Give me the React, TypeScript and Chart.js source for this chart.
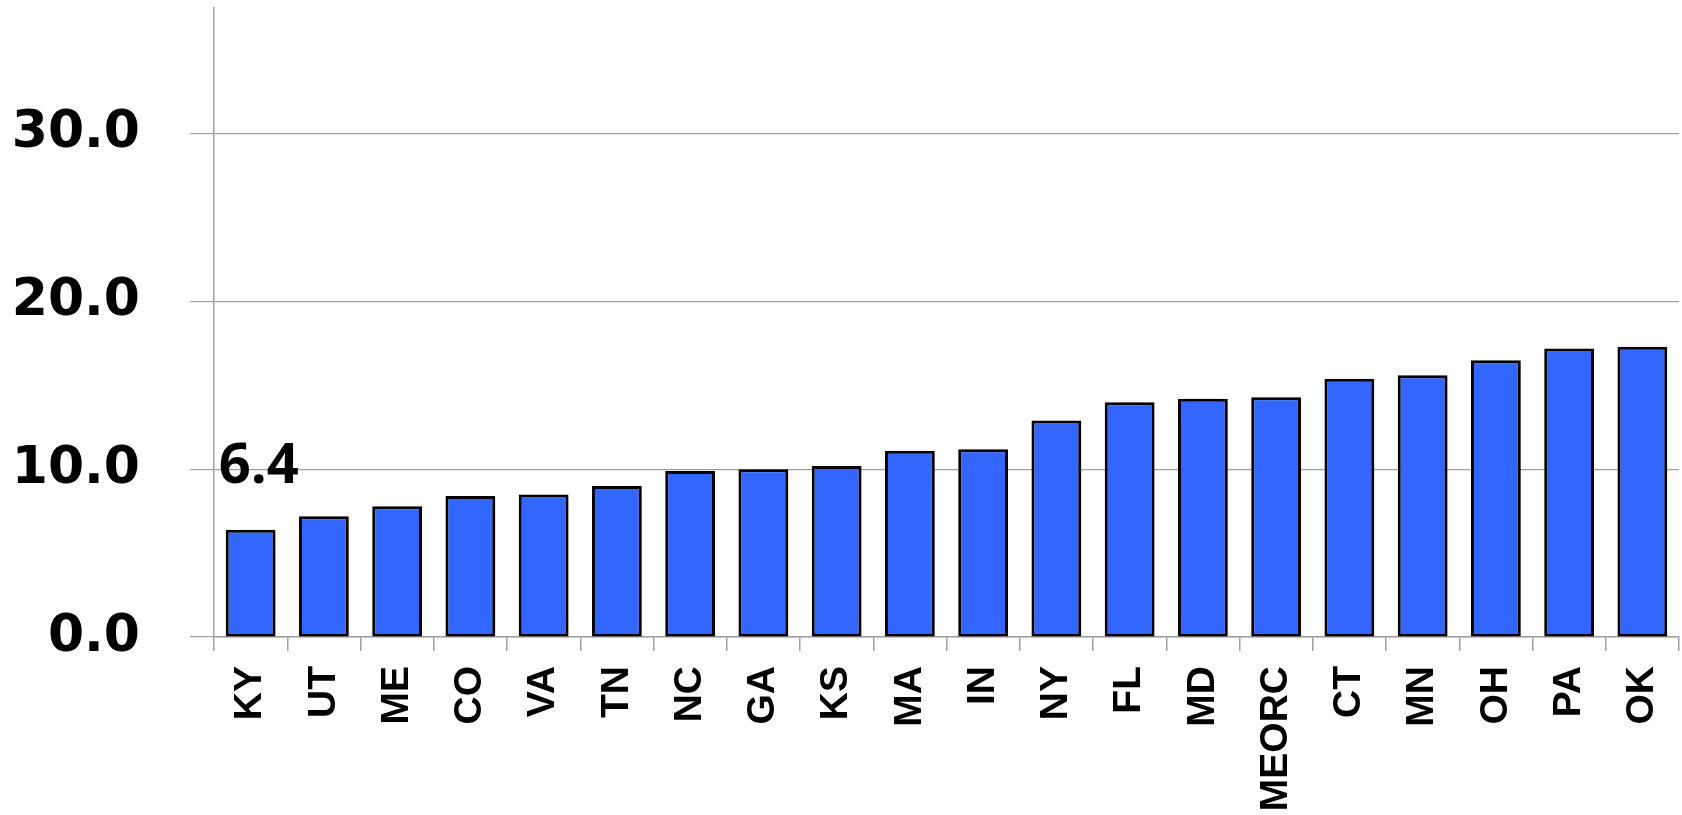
import React, { useEffect, useRef } from "react";
import { Chart, registerables } from "chart.js";

Chart.register(...registerables);

const categories = ["KY", "UT", "ME", "CO", "VA", "TN", "NC", "GA", "KS", "MA", "IN", "NY", "FL", "MD", "MEORC", "CT", "MN", "OH", "PA", "OK"];
const values = [6.4, 7.2, 7.8, 8.4, 8.5, 9.0, 9.9, 10.0, 10.2, 11.1, 11.2, 12.9, 14.0, 14.2, 14.3, 15.4, 15.6, 16.5, 17.2, 17.3];
const yTickValues = [0, 10, 20, 30];
const labelledIndex = 0;

const shadowPlugin = {
  id: "barShadow",
  beforeDatasetDraw(chart: any) {
    const ctx = chart.ctx;
    ctx.save();
    ctx.shadowColor = "rgba(0,0,0,0.22)";
    ctx.shadowBlur = 5;
    ctx.shadowOffsetX = 3;
    ctx.shadowOffsetY = 2;
  },
  afterDatasetDraw(chart: any) {
    chart.ctx.restore();
  },
};

const valueLabelPlugin = {
  id: "valueLabel",
  afterDatasetsDraw(chart: any) {
    const meta = chart.getDatasetMeta(0);
    const bar = meta.data[labelledIndex];
    if (!bar) return;
    const ctx = chart.ctx;
    ctx.save();
    ctx.fillStyle = "#000";
    ctx.font = "bold 56px 'Open Sans'";
    ctx.textAlign = "left";
    ctx.textBaseline = "alphabetic";
    ctx.fillText(values[labelledIndex].toFixed(1), bar.x - bar.width / 2 - 7, bar.y - 47);
    ctx.restore();
  },
};

export default function App() {
  const ref = useRef<HTMLCanvasElement | null>(null);

  useEffect(() => {
    if (!ref.current) return;
    const chart = new Chart(ref.current, {
      type: "bar",
      data: {
        labels: categories,
        datasets: [
          {
            data: values,
            backgroundColor: "#3366ff",
            borderColor: "#000000",
            borderWidth: 3,
            borderSkipped: false,
            barPercentage: 0.68,
            categoryPercentage: 1,
          },
        ],
      },
      plugins: [shadowPlugin, valueLabelPlugin],
      options: {
        animation: false,
        responsive: true,
        maintainAspectRatio: false,
        layout: { padding: { top: 8, right: 3, left: 0, bottom: 0 } },
        plugins: {
          legend: { display: false },
          tooltip: { enabled: false },
          title: { display: false },
        },
        scales: {
          x: {
            grid: {
              display: true,
              drawOnChartArea: false,
              drawTicks: true,
              tickLength: 14,
              offset: true,
              color: "#a0a0a0",
              lineWidth: 1.5,
            },
            border: { display: true, color: "#a0a0a0", width: 1.5 },
            ticks: {
              autoSkip: false,
              maxRotation: 90,
              minRotation: 90,
              padding: 15,
              color: "#000",
              font: { family: "'Liberation Sans', Arial, sans-serif", size: 39, weight: "bold" },
            },
            afterFit(scale: any) {
              scale.height = 178;
              scale.paddingLeft = 0;
              scale.paddingRight = 0;
              scale.paddingTop = 0;
              scale.paddingBottom = 0;
            },
          },
          y: {
            min: 0,
            max: 37.5,
            grid: {
              color: "#a0a0a0",
              lineWidth: 1.2,
              tickLength: 24,
              drawTicks: true,
            },
            border: { display: true, color: "#a0a0a0", width: 1.5 },
            afterBuildTicks(scale: any) {
              scale.ticks = yTickValues.map((v) => ({ value: v }));
            },
            ticks: {
              padding: 50,
              color: "#000",
              font: { family: "'DejaVu Sans', sans-serif", size: 52, weight: "bold" },
              callback: (v: any) => Number(v).toFixed(1),
            },
            afterFit(scale: any) {
              scale.width = 214;
              scale.paddingTop = 0;
              scale.paddingBottom = 0;
              scale.paddingLeft = 0;
              scale.paddingRight = 0;
            },
          },
        },
      },
    });
    return () => chart.destroy();
  }, []);

  return (
    <div style={{ position: "absolute", left: 0, top: 0, width: "1682px", height: "815px", overflow: "hidden", background: "#fff" }}>
      <canvas ref={ref} />
    </div>
  );
}
